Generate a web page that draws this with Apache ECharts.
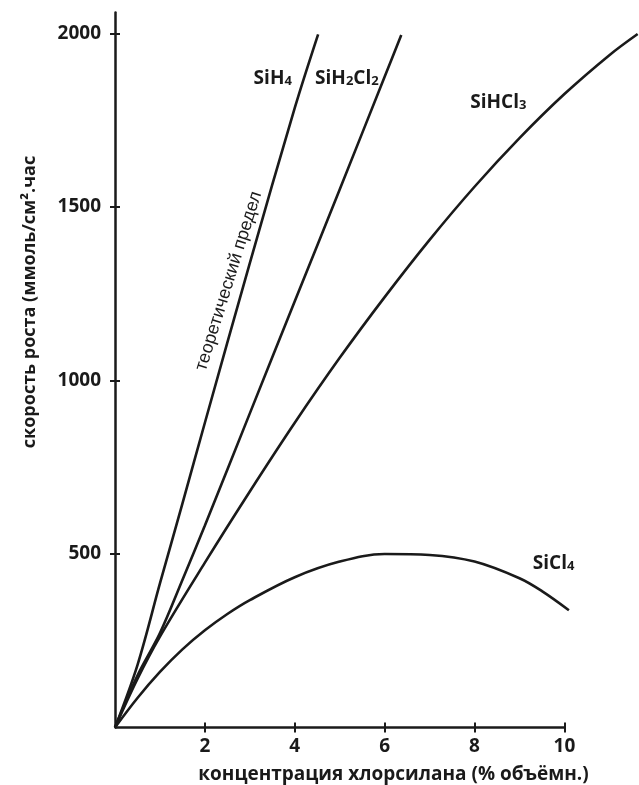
<!DOCTYPE html>
<html>
<head>
<meta charset="utf-8">
<script src="https://cdn.jsdelivr.net/npm/echarts@6/dist/echarts.min.js"></script>
<style>
html,body{margin:0;padding:0;background:#fff;}
#c{width:639px;height:785px;}
</style>
</head>
<body>
<div id="c"></div>
<script>
// ---- data ----
const xTicks = [2, 4, 6, 8, 10];
const yTicks = [500, 1000, 1500, 2000];

const sih4X = [0, 0.5, 1, 1.5, 2, 3, 4, 4.52];
const sih4Y = [0, 180, 415, 645, 878, 1338, 1785, 1997];

const sih2cl2X = [0, 0.5, 1, 1.5, 2, 3, 4, 5, 6, 6.37];
const sih2cl2Y = [0, 150, 272, 425, 582, 905, 1228, 1550, 1875, 1995];

const sihcl3X = [0, 0.5, 1, 2, 3, 4, 5, 6, 7, 8, 9, 10, 11, 11.63];
const sihcl3Y = [0, 140, 262, 475, 680, 878, 1065, 1240, 1405, 1558, 1698, 1825, 1937, 1998];

const sicl4X = [0, 0.5, 1, 1.5, 2, 2.5, 3, 4, 5, 6, 7, 8, 9, 9.5, 10.1];
const sicl4Y = [0, 85, 160, 225, 280, 327, 367, 433, 478, 500, 497, 478, 430, 393, 338];

const xName = 'концентрация хлорсилана (% объёмн.)';
const yName = 'скорость роста (ммоль/см².час';
const theoryText = 'теоретический предел';

// ---- styling ----
const FONT = '"Open Sans", "DejaVu Sans", sans-serif';
const INK = '#1a1a1a';
const X_AXIS_END = 10;   // drawn x axis ends at the last tick; the SiHCl3 curve runs past it
const X_VIEW_MAX = 11.66;
const Y_VIEW_MAX = 2060;

function zip(xs, ys) { return xs.map((x, i) => [x, ys[i]]); }

const subRich = {
  m: { fontFamily: FONT, fontSize: 19, fontWeight: 'bold', color: INK, lineHeight: 22, verticalAlign: 'bottom' },
  s: { fontFamily: FONT, fontSize: 13, fontWeight: 'bold', color: INK, lineHeight: 14, verticalAlign: 'bottom' }
};

function tag(coord, fmt, extra) {
  return {
    coord: coord,
    label: Object.assign({ show: true, position: 'inside', formatter: fmt, rich: subRich }, extra || {})
  };
}

function lineSeries(name, xs, ys, tags, extra) {
  return Object.assign({
    name: name,
    type: 'line',
    data: zip(xs, ys),
    smooth: 0.35,
    symbol: 'none',
    showSymbol: false,
    clip: false,
    silent: true,
    lineStyle: { color: INK, width: 2.6 },
    markPoint: {
      symbol: 'circle',
      symbolSize: 0,
      silent: true,
      itemStyle: { color: 'rgba(0,0,0,0)' },
      data: tags
    }
  }, extra || {});
}

const chart = echarts.init(document.getElementById('c'), null, { renderer: 'canvas' });

const plain = v => String(v);

const option = {
  backgroundColor: '#ffffff',
  animation: false,
  grid: { left: 115, right: 0, top: 12.5, bottom: 57.5, containLabel: false, outerBoundsMode: 'none' },
  xAxis: [
    {
      type: 'value', min: 0, max: X_VIEW_MAX, position: 'bottom',
      axisLine: { show: false },
      axisTick: { show: true, length: 5, customValues: xTicks, lineStyle: { color: INK, width: 2 } },
      axisLabel: { customValues: xTicks, formatter: plain, fontFamily: FONT, fontSize: 19, fontWeight: 'bold', color: INK, margin: 10 },
      splitLine: { show: false },
      name: xName, nameLocation: 'middle', nameGap: 38,
      nameTextStyle: { fontFamily: FONT, fontSize: 19, fontWeight: 'bold', color: INK, padding: [0, 0, 0, 33] }
    },
    {
      type: 'value', min: 0, max: X_VIEW_MAX, position: 'bottom',
      axisLine: { show: false },
      axisTick: { show: true, inside: true, length: 5, customValues: xTicks, lineStyle: { color: INK, width: 2 } },
      axisLabel: { show: false },
      splitLine: { show: false }
    }
  ],
  yAxis: [
    {
      type: 'value', min: 0, max: Y_VIEW_MAX, position: 'left',
      axisLine: { show: true, onZero: false, lineStyle: { color: INK, width: 2.5 } },
      axisTick: { show: true, length: 5, customValues: yTicks, lineStyle: { color: INK, width: 2 } },
      axisLabel: { customValues: yTicks, formatter: plain, fontFamily: FONT, fontSize: 19, fontWeight: 'bold', color: INK, margin: 14 },
      splitLine: { show: false },
      name: yName, nameLocation: 'middle', nameRotate: 90, nameGap: 76,
      nameTextStyle: { fontFamily: FONT, fontSize: 18, fontWeight: 'bold', color: INK, padding: [0, 0, 0, 136] }
    },
    {
      type: 'value', min: 0, max: Y_VIEW_MAX, position: 'left',
      axisLine: { show: false },
      axisTick: { show: true, inside: true, length: 5, customValues: yTicks, lineStyle: { color: INK, width: 2 } },
      axisLabel: { show: false },
      splitLine: { show: false }
    }
  ],
  series: [
    lineSeries('SiH4', sih4X, sih4Y, [
      tag([3.51, 1874], '{m|SiH}{s|4}'),
      tag([2.53, 1286], theoryText, {
        rotate: 72.6, rich: null,
        fontFamily: '"Liberation Sans", Arial, sans-serif', fontSize: 18, fontWeight: 'normal', color: INK
      })
    ], {
      // x axis line, drawn from the origin to the last tick
      markLine: {
        silent: true, symbol: 'none', label: { show: false },
        lineStyle: { color: INK, width: 2.5, type: 'solid' },
        data: [[{ coord: [0, 0] }, { coord: [X_AXIS_END, 0] }]]
      }
    }),
    lineSeries('SiH2Cl2', sih2cl2X, sih2cl2Y, [
      tag([5.16, 1874], '{m|SiH}{s|2}{m|Cl}{s|2}')
    ]),
    lineSeries('SiHCl3', sihcl3X, sihcl3Y, [
      tag([8.53, 1805], '{m|SiHCl}{s|3}')
    ]),
    lineSeries('SiCl4', sicl4X, sicl4Y, [
      tag([9.76, 476], '{m|SiCl}{s|4}')
    ])
  ]
};

chart.setOption(option);
</script>
</body>
</html>
